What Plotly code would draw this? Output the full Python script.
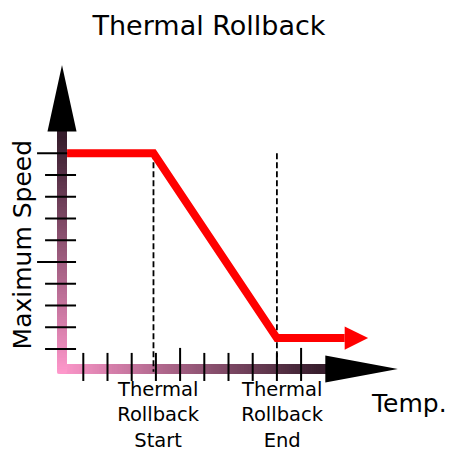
import numpy as np
import plotly.graph_objects as go

# Axis tick positions (temperature and speed units)
temp_ticks = [1, 2, 3, 4, 5, 6, 7, 8, 9, 10]
speed_ticks = [1, 2, 3, 4, 5, 6, 7, 8, 9, 10]
major_every = 5

# Rollback curve
rollback_start = 3.9
rollback_end = 9.0
max_speed = 10.0
min_speed = 1.5
curve_t = [0.33, rollback_start, rollback_end, 11.8]
curve_s = [max_speed, max_speed, min_speed, min_speed]

# Text
title_text = "Thermal Rollback"
x_title = "Temp."
y_title = "Maximum Speed"
start_label = "Thermal<br>Rollback<br>Start"
end_label = "Thermal<br>Rollback<br>End"

FONT = "DejaVu Sans"
PINK = np.array([255, 153, 204])
DARK = np.array([55, 30, 45])

axis_t = 0.12   # where the vertical axis sits
axis_s = 0.08   # where the horizontal axis sits
axis_end = 11.0

fig = go.Figure()

def grad_colors(frac):
    c = PINK[None, :] * (1 - frac[:, None]) + DARK[None, :] * frac[:, None]
    return [f"rgb({int(r)},{int(g)},{int(b)})" for r, g, b in c]

# Gradient axis bars drawn as dense square markers
ht = np.linspace(axis_t, axis_end, 400)
fig.add_trace(go.Scatter(x=ht, y=np.full_like(ht, axis_s), mode="markers",
                         marker=dict(symbol="square", size=9, color=grad_colors((ht - axis_t) / (axis_end - axis_t)), line=dict(width=0)),
                         hoverinfo="skip"))
vs = np.linspace(axis_s, axis_end, 400)
fig.add_trace(go.Scatter(x=np.full_like(vs, axis_t), y=vs, mode="markers",
                         marker=dict(symbol="square", size=9, color=grad_colors((vs - axis_s) / (axis_end - axis_s)), line=dict(width=0)),
                         hoverinfo="skip"))

# Axis arrowheads
fig.add_trace(go.Scatter(x=[axis_end, 14.0, axis_end, axis_end], y=[axis_s + 0.62, axis_s, axis_s - 0.62, axis_s + 0.62],
                         mode="lines", fill="toself", fillcolor="black", line=dict(color="black", width=0), hoverinfo="skip"))
fig.add_trace(go.Scatter(x=[axis_t - 0.6, axis_t, axis_t + 0.6, axis_t - 0.6], y=[axis_end, 14.06, axis_end, axis_end],
                         mode="lines", fill="toself", fillcolor="black", line=dict(color="black", width=0), hoverinfo="skip"))

# Tick marks crossing the axes; every fifth one is longer
tx, ty = [], []
for i, t in enumerate(temp_ticks):
    top = 1.05 if (i + 1) % major_every == 0 else 0.82
    tx += [t, t, None]
    ty += [-0.47, top, None]
for i, s in enumerate(speed_ticks):
    left = -0.91 if (i + 1) % major_every == 0 else -0.58
    tx += [left, 0.70, None]
    ty += [s, s, None]
fig.add_trace(go.Scatter(x=tx, y=ty, mode="lines", line=dict(color="black", width=2), hoverinfo="skip"))

# Dashed guides at the start and end of the rollback
for t in (rollback_start, rollback_end):
    fig.add_trace(go.Scatter(x=[t, t], y=[max_speed, -0.05], mode="lines",
                             line=dict(color="black", width=1.8, dash="6px,3px"), hoverinfo="skip"))

# Speed curve with arrowhead
fig.add_trace(go.Scatter(x=curve_t, y=curve_s, mode="lines",
                         line=dict(color="#ff0000", width=8), hoverinfo="skip"))
fig.add_trace(go.Scatter(x=[11.8, 12.77, 11.8, 11.8], y=[min_speed + 0.53, min_speed, min_speed - 0.53, min_speed + 0.53],
                         mode="lines", fill="toself", fillcolor="#ff0000", line=dict(color="#ff0000", width=0), hoverinfo="skip"))

annotations = [
    dict(x=rollback_start, y=-0.22, text=start_label, xshift=5, yanchor="top", xanchor="center"),
    dict(x=rollback_end, y=-0.22, text=end_label, xshift=6, yanchor="top", xanchor="center"),
    dict(x=14.45, y=-1.5, text=x_title, xanchor="center", yanchor="middle", font=dict(size=25)),
    dict(x=-1.5, y=5.8, text=y_title, textangle=-90, xanchor="center", yanchor="middle", font=dict(size=25)),
]
for a in annotations:
    a.setdefault("font", dict(size=19.5))
    a["font"].update(family=FONT, color="black")
    a["showarrow"] = False
    a["xref"] = "x"
    a["yref"] = "y"

fig.update_layout(
    width=450, height=454,
    margin=dict(l=0, r=0, t=0, b=0),
    paper_bgcolor="white", plot_bgcolor="white",
    showlegend=False,
    title=dict(text=title_text, x=209 / 450, xanchor="center", y=1 - 26 / 454, yanchor="middle",
               font=dict(family=FONT, size=27, color="black")),
    xaxis=dict(range=[-2.442, 16.153], visible=False, fixedrange=True),
    yaxis=dict(range=[-3.828, 17.046], visible=False, fixedrange=True),
    annotations=annotations,
)

fig.write_html("out.html")
